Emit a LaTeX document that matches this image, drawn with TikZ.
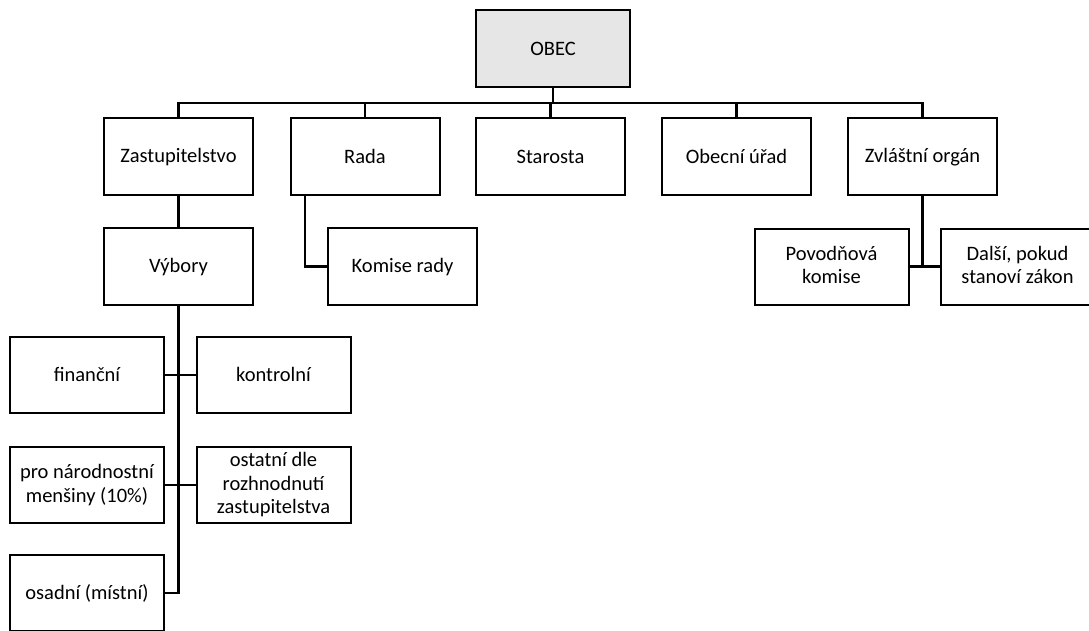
\documentclass[tikz,border=0pt]{standalone}
\usepackage{fontspec}
\setmainfont{Carlito}
\usetikzlibrary{positioning}
\definecolor{obecgray}{RGB}{230,230,230}
\newcommand{\boxstrut}{\rule[-3pt]{0pt}{19pt}}

\begin{document}
\begin{tikzpicture}[x=1pt,y=-1pt,
    box/.style={draw,line width=2pt,minimum width=149pt,minimum height=77pt,
        align=center,inner sep=2pt,font=\fontsize{20.5}{23.5}\selectfont,
        execute at begin node=\boxstrut,execute at end node=\boxstrut},
    smallbox/.style={box,minimum width=154pt,minimum height=76pt},
    conn/.style={line width=2.5pt}]
    \useasboundingbox (0,0) rectangle (1089,630);
    \clip (0,0) rectangle (1089,630);
    % top
    \node[box,minimum width=154pt,fill=obecgray] (obec) at (553,48.5) {OBEC};
    \coordinate (bus) at (553,103);
    % level 2
    \node[box] (zast) at (178.5,156.5) {Zastupitelstvo};
    \node[box] (rada) at (365,156.5) {Rada};
    \node[box] (starosta) at (550.5,156.5) {Starosta};
    \node[box] (urad) at (736.5,156.5) {Obecní úřad};
    \node[box] (zvlast) at (922.5,156.5) {Zvláštní orgán};
    % level 3
    \node[box] (vybory) at (178.5,266.5) {Výbory};
    \node[box] (komise) at (402.5,266.5) {Komise rady};
    \node[smallbox] (povod) at (831.5,266.5) {Povodňová\\komise};
    \node[smallbox] (dalsi) at (1017.5,266.5) {Další, pokud\\stanoví zákon};
    % vybory
    \node[smallbox] (financni) at (87,375) {finanční};
    \node[smallbox] (kontrolni) at (273.5,375) {kontrolní};
    \node[smallbox] (narod) at (87,485) {pro národnostní\\menšiny (10\%)};
    \node[smallbox] (ostatni) at (273.5,485) {ostatní dle\\rozhnodnutí\\zastupitelstva};
    \node[smallbox] (osadni) at (87,593) {osadní (místní)};

    \draw[conn] (obec) -- (bus);
    \foreach \n in {zast,rada,starosta,urad,zvlast}
        \draw[conn] (bus) -| (\n);
    \draw[conn] (zast) -- (vybory);
    \draw[conn] ([xshift=-60pt]rada.south) |- (komise.west);
    \draw[conn] (zvlast.south) -- (zvlast.south |- povod.east);
    \draw[conn] (povod) -- (dalsi);
    \draw[conn] (vybory.south) -- (vybory.south |- osadni.east) -- (osadni.east);
    \draw[conn] (financni) -- (kontrolni);
    \draw[conn] (narod) -- (ostatni);
\end{tikzpicture}
\end{document}
